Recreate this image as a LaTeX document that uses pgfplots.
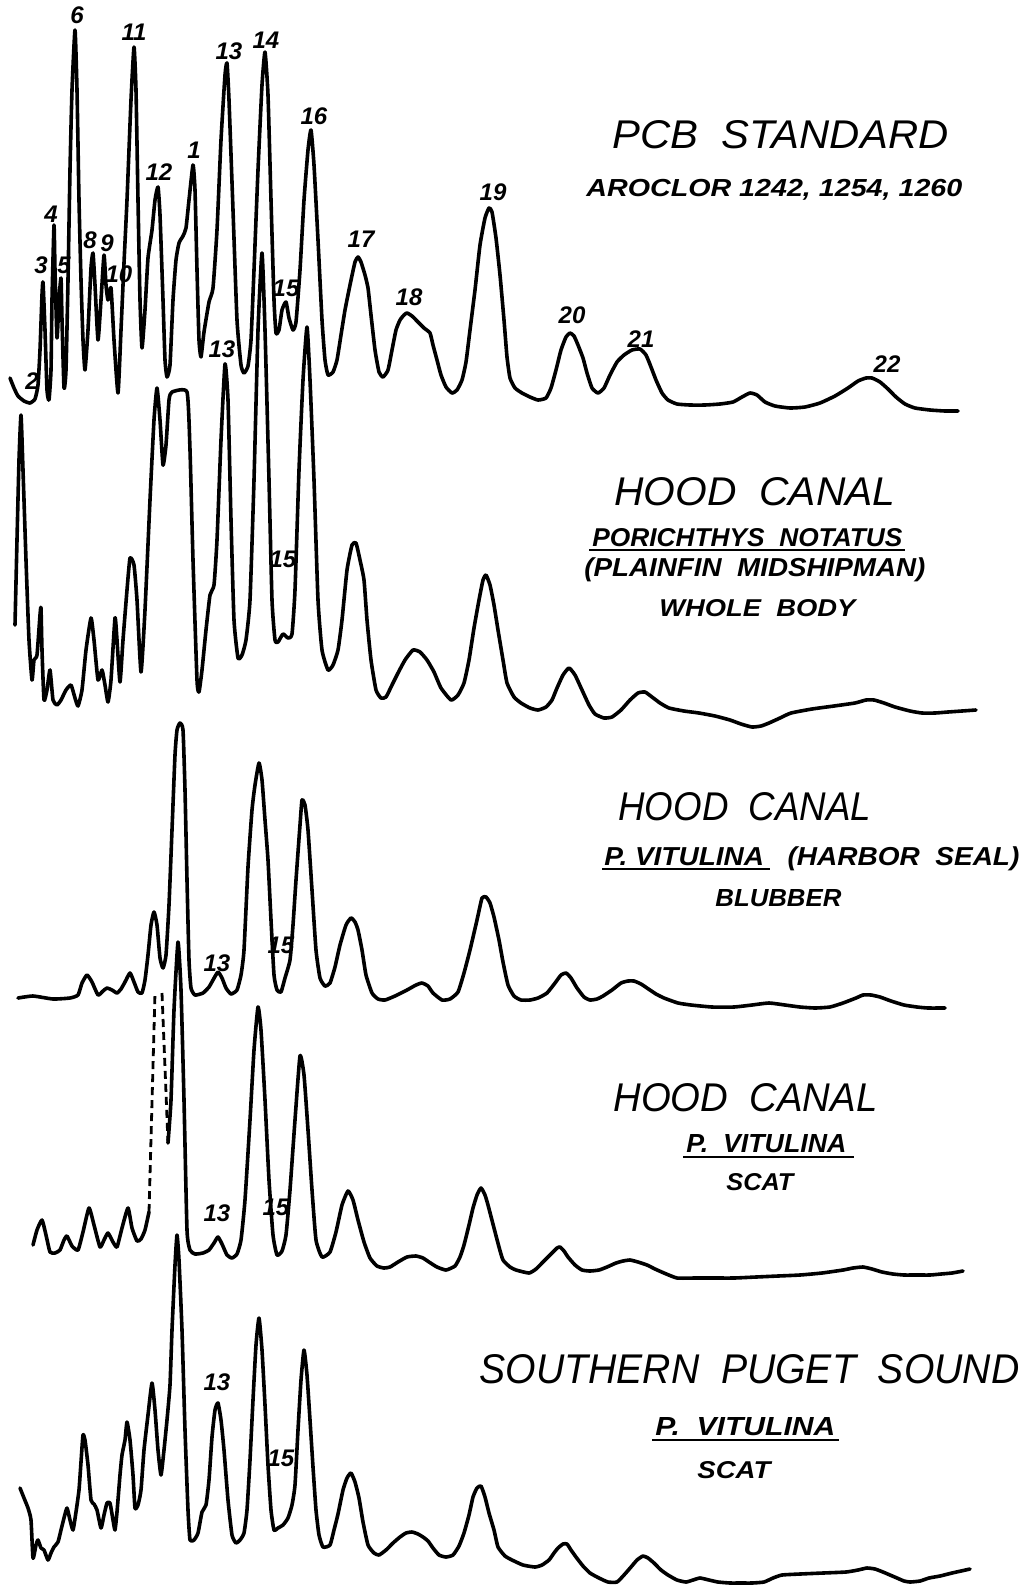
\documentclass[border=0pt]{standalone}
\usepackage{graphicx}
\usepackage{fontspec}
\setmainfont{Liberation Sans}
\usepackage{pgfplots}
\pgfplotsset{compat=1.18}
\begin{document}
\begin{tikzpicture}
\begin{axis}[width=517pt,height=792.5pt,scale only axis,
  xmin=0,xmax=1034,ymin=0,ymax=1585,y dir=reverse,hide axis,clip=false,
  tr/.style={black,solid,line width=1.8pt,line join=round,line cap=round,smooth,tension=0.3,mark=none},
  dsh/.style={black,sharp plot,dash pattern=on 4pt off 2.5pt,line width=1.4pt,line cap=butt,mark=none}]
\path (axis cs:0,0) (axis cs:1034,1585);
% ---- trace 1: PCB standard
\addplot[tr] coordinates {(10,378)(14,388)(18,396)(24,401)(30,403)(35,399)(38,385)(40,350)(42,295)(43,282)(45,330)(47,390)(49,400)(51,370)(52,300)(54,225)(55,270)(57,338)(59,300)(61,278)(62,320)(64,388)(66,370)(68,280)(70,170)(72,90)(75,30)(77,90)(79,200)(81,280)(83,340)(85,370)(88,330)(91,268)(93,253)(95,285)(98,340)(101,300)(104,255)(106,285)(108,300)(111,288)(114,340)(118,393)(121,330)(124,263)(127,200)(131,100)(134,47)(136,90)(138,200)(140,300)(142,348)(145,310)(148,258)(152,230)(155,200)(158,187)(160,215)(163,300)(165,360)(167,377)(170,365)(173,300)(176,260)(179,243)(183,236)(186,228)(189,200)(193,165)(195,190)(197,270)(199,340)(201,357)(204,332)(209,302)(213,288)(217,230)(221,140)(225,75)(227,63)(229,100)(233,210)(237,320)(241,365)(244,373)(248,366)(251,340)(254,270)(258,170)(262,85)(265,52)(268,95)(271,200)(274,300)(276,333)(279,330)(282,310)(286,302)(289,318)(293,330)(296,322)(300,270)(304,200)(308,150)(311,130)(314,165)(318,240)(322,320)(325,360)(328,375)(333,372)(337,360)(341,335)(345,310)(350,285)(355,262)(358,257)(361,262)(365,275)(368,288)(371,315)(375,350)(379,372)(383,377)(388,370)(392,350)(396,330)(400,320)(404,315)(407,313)(412,316)(418,322)(424,328)(430,333)(433,345)(437,360)(441,375)(446,387)(452,393)(457,390)(462,380)(466,362)(470,330)(475,290)(480,245)(485,218)(489,208)(492,212)(496,238)(500,275)(504,320)(507,357)(510,378)(515,388)(522,393)(530,397)(538,400)(546,398)(551,388)(556,370)(561,350)(566,337)(570,333)(574,336)(578,345)(583,358)(587,373)(592,388)(598,393)(604,388)(610,375)(617,362)(624,355)(632,350)(640,349)(646,355)(651,367)(656,380)(662,393)(668,400)(677,404)(690,405)(705,405)(720,404)(733,402)(742,397)(750,393)(757,395)(765,402)(775,406)(790,408)(805,407)(820,403)(835,396)(848,388)(858,381)(866,378)(872,378)(880,382)(888,389)(896,397)(905,404)(915,408)(930,410)(945,411)(958,411)};
% ---- trace 2: Porichthys notatus
\addplot[tr] coordinates {(15,625)(17,540)(19,460)(21,415)(23,470)(26,560)(29,640)(32,680)(34,660)(37,655)(40,615)(41,608)(42,650)(44,700)(47,690)(50,670)(53,700)(57,705)(61,700)(66,690)(71,685)(75,698)(78,706)(82,690)(86,650)(91,618)(94,640)(98,680)(102,670)(105,685)(108,702)(111,680)(115,618)(117,640)(120,682)(123,640)(127,590)(130,558)(134,565)(137,600)(141,672)(145,610)(150,500)(154,420)(157,388)(160,420)(163,465)(166,445)(169,400)(172,392)(187,392)(190,450)(193,560)(197,680)(199,692)(202,670)(206,630)(210,595)(214,585)(217,540)(221,440)(225,364)(228,400)(231,520)(234,620)(238,658)(242,655)(246,640)(250,600)(254,480)(258,330)(262,253)(265,330)(269,480)(272,600)(275,640)(278,642)(283,634)(288,638)(292,634)(295,590)(299,470)(303,380)(307,327)(310,380)(314,480)(318,600)(322,650)(328,670)(333,665)(338,650)(342,620)(347,570)(352,545)(356,543)(360,560)(364,580)(367,620)(371,660)(376,690)(381,698)(386,697)(392,685)(398,673)(405,660)(413,650)(420,652)(427,660)(434,672)(441,688)(451,700)(458,695)(464,683)(469,660)(474,628)(479,600)(483,580)(486,575)(490,585)(494,605)(498,630)(503,660)(507,683)(514,697)(521,703)(530,708)(538,710)(546,707)(552,700)(557,688)(563,675)(569,668)(575,675)(582,690)(589,705)(595,714)(604,718)(612,717)(621,710)(630,700)(638,693)(645,692)(652,697)(660,703)(669,708)(684,711)(699,713)(715,716)(730,720)(741,724)(752,727)(761,726)(769,723)(780,718)(791,713)(812,709)(834,706)(855,703)(866,700)(874,700)(884,703)(895,707)(910,711)(922,713)(935,713)(948,712)(962,711)(976,710)};
% ---- trace 3: P. vitulina blubber
\addplot[tr] coordinates {(18,998)(33,996)(53,999)(70,998)(78,995)(82,983)(87,975)(92,982)(98,995)(103,991)(107,988)(112,990)(117,993)(121,989)(125,982)(130,973)(134,982)(138,992)(142,993)(145,980)(148,955)(151,925)(154,912)(157,925)(160,958)(163,968)(166,955)(169,905)(172,830)(175,755)(177,730)(180,723)(183,730)(185,790)(187,880)(189,960)(191,988)(195,995)(203,993)(209,987)(213,980)(218,972)(222,978)(226,988)(231,994)(237,990)(241,975)(244,950)(248,867)(252,810)(255,785)(259,763)(262,780)(265,820)(268,860)(271,920)(274,975)(277,990)(281,992)(285,978)(290,960)(293,925)(296,880)(300,825)(302,800)(305,805)(308,830)(312,890)(316,950)(320,978)(325,986)(330,983)(335,967)(340,945)(346,925)(351,918)(355,922)(358,930)(362,950)(366,975)(372,993)(378,999)(385,1000)(395,996)(407,990)(416,985)(422,983)(428,986)(433,993)(442,1000)(450,999)(458,992)(464,973)(470,950)(477,920)(482,898)(486,897)(490,903)(494,917)(499,940)(503,962)(508,985)(514,996)(521,1000)(530,1000)(538,998)(547,993)(555,983)(561,975)(566,973)(571,978)(577,988)(584,997)(590,1000)(597,999)(603,996)(612,990)(621,983)(628,981)(634,981)(641,984)(647,988)(656,994)(664,998)(678,1003)(691,1005)(712,1007)(734,1007)(752,1005)(769,1003)(785,1005)(800,1007)(815,1008)(830,1007)(843,1003)(856,998)(863,995)(871,995)(880,997)(891,1001)(904,1005)(917,1007)(928,1008)(945,1008)};
% ---- trace 4: P. vitulina scat (Hood Canal)
\addplot[tr] coordinates {(33,1245)(37,1230)(42,1220)(46,1235)(50,1252)(55,1253)(60,1250)(64,1240)(67,1236)(72,1246)(78,1250)(83,1232)(89,1208)(94,1225)(100,1247)(104,1240)(108,1233)(113,1242)(117,1247)(122,1228)(128,1208)(132,1228)(137,1241)(141,1239)(145,1230)(149,1212)};
\addplot[dsh] coordinates {(149,1212)(155,993)};
\addplot[dsh] coordinates {(162,993)(168,1143)};
\addplot[tr] coordinates {(168,1143)(171,1100)(174,1010)(178,942)(181,990)(184,1100)(187,1230)(190,1250)(195,1254)(203,1253)(209,1250)(214,1243)(218,1237)(222,1244)(227,1255)(232,1258)(237,1254)(241,1240)(245,1200)(250,1120)(254,1050)(258,1007)(261,1030)(265,1100)(269,1180)(273,1235)(277,1255)(282,1251)(286,1235)(290,1190)(295,1120)(300,1056)(304,1075)(308,1130)(312,1190)(316,1240)(322,1257)(330,1252)(336,1232)(342,1205)(348,1191)(353,1200)(358,1220)(364,1242)(370,1258)(377,1266)(384,1268)(390,1267)(398,1262)(407,1257)(416,1256)(423,1258)(429,1262)(437,1267)(446,1270)(455,1266)(460,1257)(464,1245)(469,1225)(473,1208)(477,1195)(481,1188)(485,1195)(488,1205)(494,1228)(499,1247)(503,1260)(510,1267)(516,1270)(529,1273)(536,1269)(542,1263)(548,1257)(553,1252)(557,1248)(560,1247)(564,1251)(568,1257)(575,1265)(582,1270)(590,1271)(599,1270)(607,1267)(616,1263)(623,1261)(630,1260)(638,1262)(647,1265)(655,1269)(664,1273)(677,1278)(695,1278)(712,1278)(734,1278)(756,1277)(778,1276)(800,1275)(822,1273)(843,1270)(853,1268)(863,1267)(872,1269)(882,1272)(893,1274)(904,1275)(917,1275)(930,1275)(941,1274)(952,1273)(963,1271)};
% ---- trace 5: Southern Puget Sound
\addplot[tr] coordinates {(20,1488)(24,1498)(28,1508)(31,1520)(33,1558)(36,1545)(38,1540)(41,1548)(44,1550)(48,1560)(51,1553)(54,1547)(58,1542)(61,1530)(64,1518)(67,1508)(70,1520)(73,1530)(76,1512)(79,1490)(81,1462)(83,1435)(85,1440)(88,1465)(91,1500)(94,1504)(97,1510)(101,1528)(104,1515)(107,1503)(110,1503)(113,1520)(115,1530)(117,1512)(120,1475)(122,1455)(125,1440)(127,1422)(130,1440)(133,1475)(135,1508)(138,1505)(141,1490)(144,1450)(148,1415)(152,1383)(155,1410)(158,1450)(161,1475)(164,1450)(167,1420)(170,1385)(172,1330)(175,1265)(177,1235)(179,1260)(182,1330)(185,1430)(188,1510)(190,1540)(194,1540)(198,1533)(202,1512)(206,1505)(209,1480)(212,1437)(215,1410)(218,1403)(221,1420)(224,1450)(228,1500)(232,1535)(236,1543)(240,1540)(244,1533)(247,1510)(250,1460)(253,1400)(256,1345)(259,1318)(262,1350)(265,1405)(268,1465)(271,1510)(274,1530)(278,1528)(283,1525)(288,1518)(292,1505)(295,1485)(298,1430)(301,1380)(304,1350)(307,1375)(310,1420)(313,1467)(316,1510)(319,1535)(323,1547)(330,1545)(334,1530)(338,1514)(343,1490)(347,1478)(351,1473)(355,1482)(359,1498)(363,1522)(368,1545)(374,1553)(379,1555)(386,1550)(393,1543)(400,1537)(406,1533)(412,1532)(418,1534)(423,1537)(428,1541)(433,1548)(439,1555)(446,1557)(453,1555)(459,1546)(464,1533)(469,1515)(473,1497)(477,1488)(481,1486)(485,1497)(489,1513)(494,1530)(498,1547)(505,1556)(512,1560)(523,1565)(535,1567)(542,1565)(549,1560)(554,1553)(558,1548)(563,1544)(567,1544)(571,1550)(576,1557)(583,1566)(590,1573)(599,1578)(608,1582)(617,1582)(624,1575)(631,1567)(637,1560)(643,1556)(648,1558)(654,1563)(661,1570)(668,1575)(677,1580)(686,1582)(693,1580)(700,1578)(709,1580)(718,1582)(730,1583)(741,1583)(752,1583)(764,1582)(773,1578)(782,1575)(800,1574)(823,1573)(846,1572)(858,1570)(867,1568)(875,1569)(883,1572)(890,1575)(897,1578)(904,1581)(910,1582)(920,1581)(929,1578)(940,1576)(952,1573)(961,1571)(970,1569)};
% ---- peak numbers
\tikzset{pk/.style={font=\fontsize{12}{12}\selectfont\bfseries\itshape,inner sep=0pt,anchor=center}}
\node[pk] at (axis cs:77,15) {6};
\node[pk] at (axis cs:134,32) {11};
\node[pk] at (axis cs:229,51) {13};
\node[pk] at (axis cs:266,40) {14};
\node[pk] at (axis cs:314,116) {16};
\node[pk] at (axis cs:159,172) {12};
\node[pk] at (axis cs:194,150) {1};
\node[pk] at (axis cs:51,214) {4};
\node[pk] at (axis cs:41,265) {3};
\node[pk] at (axis cs:64,265) {5};
\node[pk] at (axis cs:90,240) {8};
\node[pk] at (axis cs:107,243) {9};
\node[pk] at (axis cs:119,274) {10};
\node[pk] at (axis cs:32,381) {2};
\node[pk] at (axis cs:286,288) {15};
\node[pk] at (axis cs:361,239) {17};
\node[pk] at (axis cs:409,297) {18};
\node[pk] at (axis cs:493,192) {19};
\node[pk] at (axis cs:572,315) {20};
\node[pk] at (axis cs:641,339) {21};
\node[pk] at (axis cs:887,364) {22};
\node[pk] at (axis cs:222,349) {13};
\node[pk] at (axis cs:283,559) {15};
\node[pk] at (axis cs:217,963) {13};
\node[pk] at (axis cs:281,945) {15};
\node[pk] at (axis cs:217,1213) {13};
\node[pk] at (axis cs:276,1207) {15};
\node[pk] at (axis cs:217,1382) {13};
\node[pk] at (axis cs:281,1458) {15};
% ---- titles
\tikzset{tt/.style={inner sep=0pt,anchor=base west}}
\node[tt] at (axis cs:612,148) {\resizebox{168pt}{14pt}{\itshape PCB\ \ STANDARD}};
\node[tt] at (axis cs:586,196) {\resizebox{188pt}{8.6pt}{\bfseries\itshape AROCLOR\ 1242,\ 1254,\ 1260}};
\node[tt] at (axis cs:614,505) {\resizebox{140.5pt}{14pt}{\itshape HOOD\ \ CANAL}};
\node[tt] at (axis cs:592,546) {\resizebox{155pt}{9pt}{\bfseries\itshape PORICHTHYS\ \ NOTATUS}};
\draw[line width=1.1pt] (axis cs:589,550) -- (axis cs:905,550);
\node[tt] at (axis cs:584,576) {\resizebox{170.5pt}{9.4pt}{\bfseries\itshape (PLAINFIN\ \ MIDSHIPMAN)}};
\node[tt] at (axis cs:659,616) {\resizebox{98pt}{8.5pt}{\bfseries\itshape WHOLE\ \ BODY}};
\node[tt] at (axis cs:618,820) {\resizebox{126.5pt}{14pt}{\itshape HOOD\ \ CANAL}};
\node[tt] at (axis cs:604,865) {\resizebox{207.5pt}{9.4pt}{\bfseries\itshape P.\ VITULINA\ \ \ (HARBOR\ \ SEAL)}};
\draw[line width=1.1pt] (axis cs:602,869) -- (axis cs:770,869);
\node[tt] at (axis cs:715,906) {\resizebox{63pt}{8.5pt}{\bfseries\itshape BLUBBER}};
\node[tt] at (axis cs:613,1111) {\resizebox{132pt}{14pt}{\itshape HOOD\ \ CANAL}};
\node[tt] at (axis cs:686,1152) {\resizebox{80pt}{9pt}{\bfseries\itshape P.\ \ VITULINA}};
\draw[line width=1.1pt] (axis cs:683,1157) -- (axis cs:854,1157);
\node[tt] at (axis cs:726,1190) {\resizebox{33.5pt}{8.5pt}{\bfseries\itshape SCAT}};
\node[tt] at (axis cs:479,1383) {\resizebox{270pt}{14.5pt}{\itshape SOUTHERN\ \ PUGET\ \ SOUND}};
\node[tt] at (axis cs:655,1435) {\resizebox{90pt}{9pt}{\bfseries\itshape P.\ \ VITULINA}};
\draw[line width=1.1pt] (axis cs:652,1440) -- (axis cs:839,1440);
\node[tt] at (axis cs:697,1478) {\resizebox{36.5pt}{8.5pt}{\bfseries\itshape SCAT}};
\end{axis}
\end{tikzpicture}
\end{document}
